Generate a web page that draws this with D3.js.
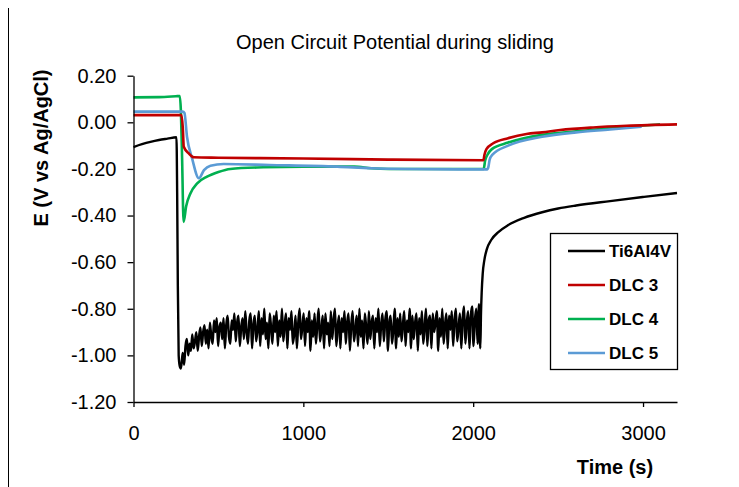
<!DOCTYPE html>
<html><head><meta charset="utf-8">
<script src="https://cdn.jsdelivr.net/npm/d3@7"></script>
<style>body{margin:0;background:#fff}svg{display:block}text{font-family:"Liberation Sans",Arial,sans-serif}</style>
</head><body>
<script>
// ---- data ----
const title = "Open Circuit Potential during sliding";
const seriesNames = ["Ti6Al4V", "DLC 3", "DLC 4", "DLC 5"];
const seriesColors = ["#000000", "#C00000", "#00B050", "#5B9BD5"];
const xTicks = [0, 1000, 2000, 3000];
const xTickLabels = ["0", "1000", "2000", "3000"];
const yTicks = [0.2, 0, -0.2, -0.4, -0.6, -0.8, -1.0, -1.2];
const yTickLabels = ["0.20", "0.00", "-0.20", "-0.40", "-0.60", "-0.80", "-1.00", "-1.20"];

// Ti6Al4V: before sliding, noisy sliding part (start 290 s, every 8 s), recovery
const ti6Before = [[0,-0.106],[50,-0.094],[100,-0.084],[150,-0.076],[200,-0.070],[253,-0.064],[257,-0.30],[261,-0.70],[266,-1.00],[272,-1.045],[279,-1.056],[285,-1.02]];
const ti6NoiseStart = 290, ti6NoiseStep = 8;
const ti6Noise = [
 -0.99,-1.04,-0.96,-0.93,-1.00,-0.95,-0.98,-0.91,-0.97,-0.94,
 -0.90,-0.98,-0.92,-0.88,-0.96,-0.90,-0.87,-0.95,-0.89,-0.97,
 -0.86,-0.92,-0.95,-0.85,-0.90,-0.84,-0.96,-0.88,-0.86,-0.93,
 -0.84,-0.97,-0.87,-0.83,-0.92,-0.95,-0.85,-0.89,-0.82,-0.94,
 -0.86,-0.83,-0.96,-0.88,-0.84,-0.93,-0.81,-0.90,-0.95,-0.85,
 -0.82,-0.97,-0.87,-0.83,-0.94,-0.89,-0.81,-0.96,-0.84,-0.91,
 -0.80,-0.93,-0.86,-0.97,-0.82,-0.88,-0.95,-0.83,-0.90,-0.81,
 -0.96,-0.85,-0.92,-0.80,-0.94,-0.87,-0.82,-0.97,-0.84,-0.89,
 -0.81,-0.95,-0.91,-0.83,-0.97,-0.86,-0.80,-0.93,-0.88,-0.82,
 -0.96,-0.84,-0.90,-0.81,-0.98,-0.85,-0.92,-0.82,-0.95,-0.87,
 -0.80,-0.94,-0.89,-0.83,-0.97,-0.82,-0.91,-0.86,-0.96,-0.81,
 -0.93,-0.85,-0.80,-0.96,-0.88,-0.83,-0.97,-0.84,-0.90,-0.81,
 -0.95,-0.86,-0.82,-0.98,-0.87,-0.81,-0.94,-0.89,-0.83,-0.96,
 -0.80,-0.92,-0.85,-0.97,-0.82,-0.88,-0.95,-0.81,-0.93,-0.86,
 -0.83,-0.97,-0.84,-0.90,-0.80,-0.96,-0.87,-0.82,-0.94,-0.85,
 -0.81,-0.98,-0.86,-0.83,-0.95,-0.89,-0.80,-0.97,-0.84,-0.92,
 -0.82,-0.94,-0.87,-0.81,-0.96,-0.85,-0.90,-0.80,-0.97,-0.83,
 -0.93,-0.86,-0.82,-0.98,-0.84,-0.91,-0.81,-0.95,-0.88,-0.80,
 -0.96,-0.85,-0.83,-0.97,-0.82,-0.90,-0.86,-0.81,-0.98,-0.84,
 -0.92,-0.80,-0.95,-0.87,-0.82,-0.97,-0.83,-0.89,-0.81,-0.96,
 -0.85,-0.80,-0.94,-0.88,-0.82,-0.97,-0.84,-0.79,-0.95,-0.86,
 -0.81,-0.97,-0.83,-0.79,-0.96,-0.85,-0.80,-0.95,-0.78,-0.97
];
const ti6After = [[2046,-0.82],[2050,-0.73],[2056,-0.65],[2066,-0.59],[2080,-0.545],[2106,-0.505],[2150,-0.470],[2206,-0.441],[2300,-0.410],[2406,-0.386],[2500,-0.370],[2606,-0.357],[2806,-0.338],[3006,-0.320],[3200,-0.303]];

const dlc3 = [[0,0.031],[282,0.031],[290,-0.02],[296,-0.105],[325,-0.133],[355,-0.150],[500,-0.152],[1000,-0.155],[1500,-0.160],[2060,-0.163],[2066,-0.14],[2078,-0.115],[2118,-0.090],[2206,-0.068],[2314,-0.050],[2406,-0.043],[2512,-0.033],[2706,-0.022],[2904,-0.015],[3200,-0.009]];
const dlc4 = [[0,0.107],[150,0.108],[250,0.112],[272,0.113],[279,0.05],[286,-0.15],[295,-0.427],[310,-0.36],[335,-0.305],[375,-0.262],[433,-0.233],[500,-0.213],[570,-0.200],[765,-0.193],[1000,-0.190],[1300,-0.190],[1400,-0.197],[1500,-0.200],[1800,-0.200],[2062,-0.200],[2070,-0.165],[2085,-0.138],[2110,-0.115],[2206,-0.087],[2406,-0.054],[2606,-0.039],[2806,-0.025],[3000,-0.014],[3100,-0.009]];
const dlc5 = [[0,0.046],[290,0.046],[300,0.040],[315,-0.062],[345,-0.155],[385,-0.240],[415,-0.205],[453,-0.186],[531,-0.179],[800,-0.183],[1200,-0.190],[1400,-0.197],[1600,-0.200],[2082,-0.202],[2090,-0.19],[2097,-0.16],[2112,-0.14],[2206,-0.100],[2406,-0.062],[2606,-0.043],[2806,-0.031],[2992,-0.019]];

// ---- chart ----
const W = 739, H = 487;
const svg = d3.select("body").append("svg").attr("width", W).attr("height", H);
const x = d3.scaleLinear().domain([0, 3200]).range([133.5, 677]);
const y = d3.scaleLinear().domain([-1.2, 0.2]).range([402, 75.7]);

// left frame line
svg.append("line").attr("x1", 8.5).attr("x2", 8.5).attr("y1", 8).attr("y2", H).attr("stroke", "#000").attr("stroke-width", 1);

svg.append("text").attr("x", 395).attr("y", 49).attr("text-anchor", "middle")
  .attr("font-size", 20).attr("fill", "#000").text(title);

const ti6 = ti6Before.concat(ti6Noise.map((v, i) => [ti6NoiseStart + i * ti6NoiseStep, v]), ti6After);
const allSeries = [ti6, dlc3, dlc4, dlc5];
const line = d3.line().x(d => x(d[0])).y(d => y(d[1])).curve(d3.curveMonotoneX);

const order = [0, 2, 3, 1];
order.forEach(i => {
  svg.append("path").datum(allSeries[i]).attr("d", line).attr("fill", "none")
    .attr("stroke", seriesColors[i]).attr("stroke-width", i === 0 ? 2.4 : 2.6)
    .attr("stroke-linejoin", "round");
});

// axes
const yAxis = d3.axisLeft(y).tickValues(yTicks).tickFormat((d, i) => yTickLabels[i]).tickSize(6).tickSizeOuter(0).tickPadding(11);
const gy = svg.append("g").attr("transform", "translate(133.5,0)").call(yAxis);
const xAxis = d3.axisBottom(x).tickValues(xTicks).tickFormat((d, i) => xTickLabels[i]).tickSize(5).tickSizeOuter(0).tickPadding(19);
const gx = svg.append("g").attr("transform", "translate(0,402)").call(xAxis);
[gx, gy].forEach(g => {
  g.selectAll("text").attr("font-size", 20).attr("fill", "#000").attr("font-family", '"Liberation Sans",Arial,sans-serif');
  g.selectAll("line").attr("stroke", "#000").attr("stroke-width", 1.3);
  g.select(".domain").attr("stroke", "#000").attr("stroke-width", 1.3);
});

svg.append("text").attr("transform", "translate(48,148) rotate(-90)").attr("text-anchor", "middle")
  .attr("font-size", 20).attr("font-weight", "bold").text("E (V vs Ag/AgCl)");
svg.append("text").attr("x", 615).attr("y", 474).attr("text-anchor", "middle")
  .attr("font-size", 20).attr("font-weight", "bold").text("Time (s)");

// legend
const lg = svg.append("g");
lg.append("rect").attr("x", 550.5).attr("y", 233.5).attr("width", 127).attr("height", 136)
  .attr("fill", "#fff").attr("stroke", "#000").attr("stroke-width", 1.3);
seriesNames.forEach((n, i) => {
  const cy = 251 + i * 34;
  lg.append("line").attr("x1", 568).attr("x2", 605).attr("y1", cy).attr("y2", cy)
    .attr("stroke", seriesColors[i]).attr("stroke-width", 2.6);
  lg.append("text").attr("x", 609).attr("y", cy + 6).attr("font-size", 17).attr("font-weight", "bold").text(n);
});
</script>
</body></html>
